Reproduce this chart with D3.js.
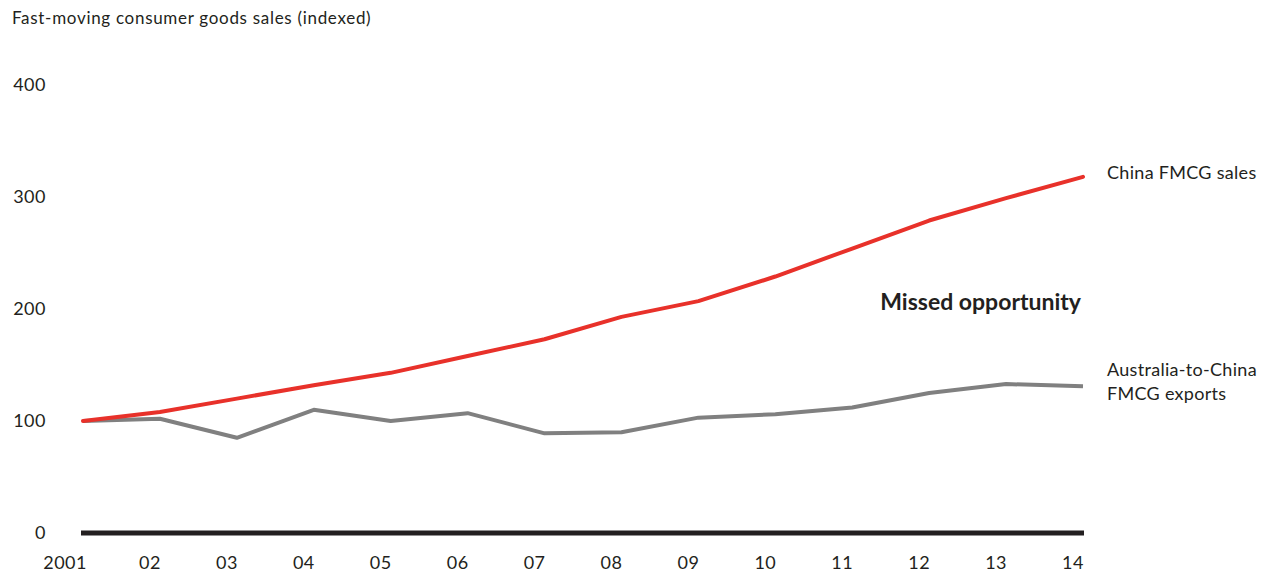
<!DOCTYPE html>
<html>
<head>
<meta charset="utf-8">
<script src="https://cdn.jsdelivr.net/npm/d3@7"></script>
<style>
  body { margin: 0; background: #fff; }
  svg { display: block; font-family: Lato, "Open Sans", sans-serif; }
</style>
</head>
<body>
<div id="chart-container"></div>
<script>
// Data
const years = [2001, 2002, 2003, 2004, 2005, 2006, 2007, 2008, 2009, 2010, 2011, 2012, 2013, 2014];
const yearLabels = ["2001", "02", "03", "04", "05", "06", "07", "08", "09", "10", "11", "12", "13", "14"];
const chinaSales = [100, 108, 120, 132, 143, 158, 173, 193, 207, 229, 254, 279, 299, 318];
const ausExports = [100, 102, 85, 110, 100, 107, 89, 90, 103, 106, 112, 125, 133, 131];
const yTicks = [0, 100, 200, 300, 400];

const width = 1271;
const height = 575;

const x = d3.scaleLinear()
  .domain([2001, 2014])
  .range([83, 1083]);

const y = d3.scaleLinear()
  .domain([0, 400])
  .range([533, 85]);

const svg = d3.create("svg")
  .attr("width", width)
  .attr("height", height)
  .attr("viewBox", [0, 0, width, height]);

// Title
svg.append("text")
  .attr("x", 12)
  .attr("y", 24)
  .attr("font-size", "17px")
  .attr("letter-spacing", "0.7px")
  .attr("fill", "#231f20")
  .text("Fast-moving consumer goods sales (indexed)");

// Y axis labels
svg.append("g")
  .selectAll("text")
  .data(yTicks)
  .join("text")
  .attr("x", 46)
  .attr("y", d => y(d))
  .attr("dy", "0.35em")
  .attr("text-anchor", "end")
  .attr("font-size", "18px")
  .attr("letter-spacing", "0.5px")
  .attr("fill", "#231f20")
  .text(d => d);

// X axis labels (right-aligned to the year position)
svg.append("g")
  .selectAll("text")
  .data(years)
  .join("text")
  .attr("x", (d, i) => x(d) + (i === 0 ? 4 : 1))
  .attr("y", 563)
  .attr("dy", "0.35em")
  .attr("text-anchor", "end")
  .attr("font-size", "18px")
  .attr("letter-spacing", "0.5px")
  .attr("fill", "#231f20")
  .text((d, i) => yearLabels[i]);

// Baseline
svg.append("line")
  .attr("x1", x(2001) - 2)
  .attr("x2", x(2014) + 1)
  .attr("y1", y(0))
  .attr("y2", y(0))
  .attr("stroke", "#231f20")
  .attr("stroke-width", 5);

const line = d3.line()
  .x((d, i) => x(years[i]))
  .y(d => y(d));

svg.append("path")
  .datum(ausExports)
  .attr("fill", "none")
  .attr("stroke", "#808080")
  .attr("stroke-width", 4)
  .attr("stroke-linejoin", "round")
  .attr("d", line);

svg.append("path")
  .datum(chinaSales)
  .attr("fill", "none")
  .attr("stroke", "#e8312a")
  .attr("stroke-width", 4)
  .attr("stroke-linecap", "round")
  .attr("stroke-linejoin", "round")
  .attr("d", line);

// Series labels
svg.append("text")
  .attr("x", 1107)
  .attr("y", 173)
  .attr("dy", "0.35em")
  .attr("font-size", "18px")
  .attr("letter-spacing", "0.3px")
  .attr("fill", "#231f20")
  .text("China FMCG sales");

const ausLabel = svg.append("text")
  .attr("x", 1107)
  .attr("y", 370)
  .attr("dy", "0.35em")
  .attr("font-size", "18px")
  .attr("letter-spacing", "0.3px")
  .attr("fill", "#231f20");
ausLabel.append("tspan").attr("x", 1107).text("Australia-to-China");
ausLabel.append("tspan").attr("x", 1107).attr("dy", 24).text("FMCG exports");

// Annotation
svg.append("text")
  .attr("x", 1081)
  .attr("y", 302)
  .attr("dy", "0.35em")
  .attr("text-anchor", "end")
  .attr("font-size", "23px")
  .attr("font-weight", "bold")
  .attr("fill", "#231f20")
  .text("Missed opportunity");

document.getElementById("chart-container").appendChild(svg.node());
</script>
</body>
</html>
